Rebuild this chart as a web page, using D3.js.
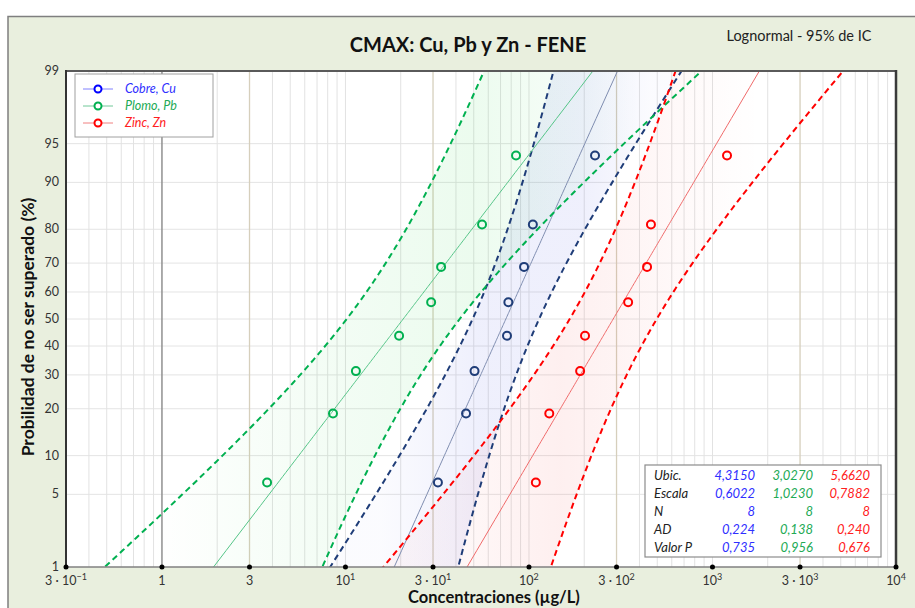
<!DOCTYPE html>
<html>
<head>
	<meta charset="utf-8">
	<title>CMAX</title>
	<style>
		body { margin: 0; background: #fff; }
		text { font-family: Lato, "Open Sans", sans-serif; }
	</style>
</head>
<body>
	<svg id="container" width="915" height="608"></svg>
</body>
<script src="https://d3js.org/d3.v7.min.js"></script>
<script>
	// series
	let categories = ["Cobre, Cu", "Plomo, Pb", "Zinc, Zn"]
	let cuValues = [31.9, 45.4, 50.5, 75.9, 77.2, 94, 105, 229]
	let pbValues = [3.74, 8.55, 11.4, 19.6, 29.3, 33.2, 55.5, 85.0]
	let znValues = [109, 129, 190, 202, 347, 440, 462, 1200]

	// stats table
	let statLabels = ["Ubic.", "Escala", "N", "AD", "Valor P"]
	let ubic = [4.3150, 3.0270, 5.6620]
	let escala = [0.6022, 1.0230, 0.7882]
	let nVals = [8, 8, 8]
	let adVals = [0.224, 0.138, 0.240]
	let pVals = [0.735, 0.956, 0.676]

	// ticks
	let yTicks = [1, 5, 10, 20, 30, 40, 50, 60, 70, 80, 90, 95, 99]
	let xTicks = [0.3, 1, 3, 10, 30, 100, 300, 1000, 3000, 10000]
	let xTickLabels = [["3 · 10", "−1"], ["1", ""], ["3", ""], ["10", "1"], ["3 · 10", "1"],
		["10", "2"], ["3 · 10", "2"], ["10", "3"], ["3 · 10", "3"], ["10", "4"]]

	let seriesValues = [cuValues, pbValues, znValues]
	let markColor = ["#1F3D78", "#00B050", "#FF0000"]
	let legendMark = ["#0000FF", "#00B050", "#FF0000"]
	let legendLine = ["#8080FF", "#70C898", "#F08080"]
	let fitColor = ["#7F8DB0", "#55C588", "#F06A6A"]
	let dashColor = ["#1F3D78", "#00B050", "#FF0000"]
	let textColor = ["#2F2FFF", "#22AA55", "#FF2020"]

	// inverse normal cdf (Acklam)
	function qnorm(p) {
		let a = [-3.969683028665376e+01, 2.209460984245205e+02, -2.759285104469687e+02, 1.383577518672690e+02, -3.066479806614716e+01, 2.506628277459239e+00]
		let b = [-5.447609879822406e+01, 1.615858368580409e+02, -1.556989798598866e+02, 6.680131188771972e+01, -1.328068155288572e+01]
		let c = [-7.784894002430293e-03, -3.223964580411365e-01, -2.400758277161838e+00, -2.549732539343734e+00, 4.374664141464968e+00, 2.938163982698783e+00]
		let d = [7.784695709041462e-03, 3.224671290700398e-01, 2.445134137142996e+00, 3.754408661907416e+00]
		let pl = 0.02425, q, r
		if (p < pl) {
			q = Math.sqrt(-2 * Math.log(p))
			return (((((c[0]*q+c[1])*q+c[2])*q+c[3])*q+c[4])*q+c[5]) / ((((d[0]*q+d[1])*q+d[2])*q+d[3])*q+1)
		}
		if (p > 1 - pl) {
			q = Math.sqrt(-2 * Math.log(1 - p))
			return -(((((c[0]*q+c[1])*q+c[2])*q+c[3])*q+c[4])*q+c[5]) / ((((d[0]*q+d[1])*q+d[2])*q+d[3])*q+1)
		}
		q = p - 0.5; r = q * q
		return (((((a[0]*r+a[1])*r+a[2])*r+a[3])*r+a[4])*r+a[5])*q / (((((b[0]*r+b[1])*r+b[2])*r+b[3])*r+b[4])*r+1)
	}

	let svg = d3.select("#container")
	let pLeft = 66, pRight = 896, pTop = 71, pBottom = 567

	// outer panel
	svg.append("rect").attr("x", 8).attr("y", 16.5).attr("width", 920).attr("height", 600)
		.attr("fill", "#E9EFDE").attr("stroke", "#7F7F7F").attr("stroke-width", 1.5)
	svg.append("rect").attr("x", pLeft).attr("y", pTop).attr("width", pRight - pLeft).attr("height", pBottom - pTop)
		.attr("fill", "#fff")

	let x = d3.scaleLog().domain([0.3, 10000]).range([pLeft, pRight])
	let y = d3.scaleLinear().domain([qnorm(0.01), qnorm(0.99)]).range([pBottom, pTop])
	let yp = p => y(qnorm(p / 100))

	let defs = svg.append("defs")
	defs.append("clipPath").attr("id", "plotclip").append("rect")
		.attr("x", pLeft).attr("y", pTop).attr("width", pRight - pLeft).attr("height", pBottom - pTop)

	// grid
	let grid = svg.append("g")
	yTicks.filter(t => t > 1 && t < 99).forEach(t => {
		grid.append("line").attr("x1", pLeft).attr("x2", pRight).attr("y1", yp(t)).attr("y2", yp(t))
			.attr("stroke", "#E4E4E4").attr("stroke-width", 1)
	})
	let vlines = []
	for (let k = -1; k <= 3; k++) {
		for (let m = 1; m <= 9; m++) {
			let v = m * Math.pow(10, k)
			if (v < 0.3 || v >= 10000) continue
			vlines.push({ v: v, m: m, k: k })
		}
	}
	vlines.filter(d => d.m != 3 && !(d.m == 1 && d.k == 0)).forEach(d => {
		grid.append("line").attr("x1", x(d.v)).attr("x2", x(d.v)).attr("y1", pTop).attr("y2", pBottom)
			.attr("stroke", "#E2E2E2").attr("stroke-width", 1)
	})
	vlines.filter(d => d.m == 3).forEach(d => {
		grid.append("line").attr("x1", x(d.v)).attr("x2", x(d.v)).attr("y1", pTop).attr("y2", pBottom)
			.attr("stroke", "#D6CFBC").attr("stroke-width", 1.3)
	})
	grid.append("line").attr("x1", x(1)).attr("x2", x(1)).attr("y1", pTop).attr("y2", pBottom)
		.attr("stroke", "#909090").attr("stroke-width", 1.5)

	// confidence bands and fit lines
	let probs = d3.range(0.5, 99.51, 0.5)
	let plot = svg.append("g").attr("clip-path", "url(#plotclip)")
	let gradStops = [
		[[380, 0.02], [480, 0.08], [580, 0.08], [650, 0.02]],
		[[150, 0.0], [330, 0.05], [470, 0.08], [540, 0.05], [640, 0.0]],
		[[450, 0.03], [560, 0.07], [640, 0.04], [760, 0.0]]
	]
	let bandBase = ["#3340E0", "#10D030", "#F02020"]

	function bandOf(i) {
		let mu = ubic[i], s = escala[i], n = nVals[i]
		return probs.map(p => {
			let z = qnorm(p / 100)
			let c = mu + z * s
			let h = 1.96 * s * Math.sqrt((1 + z * z / 2) / n)
			return { p: p, lo: Math.exp(c - h), hi: Math.exp(c + h), c: Math.exp(c) }
		})
	}

	categories.forEach((cat, i) => {
		let band = bandOf(i)
		let g = defs.append("linearGradient").attr("id", "grad" + i)
			.attr("gradientUnits", "userSpaceOnUse").attr("x1", 0).attr("x2", 915).attr("y1", 0).attr("y2", 0)
		gradStops[i].forEach(st => {
			g.append("stop").attr("offset", st[0] / 915).attr("stop-color", bandBase[i]).attr("stop-opacity", st[1])
		})
		let area = d3.area().x0(d => x(d.lo)).x1(d => x(d.hi)).y(d => yp(d.p))
		plot.append("path").datum(band).attr("d", area).attr("fill", "url(#grad" + i + ")")
	})

	categories.forEach((cat, i) => {
		let band = bandOf(i)
		plot.append("path").datum(band)
			.attr("d", d3.line().x(d => x(d.c)).y(d => yp(d.p)))
			.attr("fill", "none").attr("stroke", fitColor[i]).attr("stroke-width", 1)
		;["lo", "hi"].forEach(key => {
			plot.append("path").datum(band)
				.attr("d", d3.line().x(d => x(d[key])).y(d => yp(d.p)))
				.attr("fill", "none").attr("stroke", dashColor[i]).attr("stroke-width", 2)
				.attr("stroke-dasharray", "6,4")
		})
	})

	// points
	seriesValues.forEach((vals, i) => {
		let n = vals.length
		plot.selectAll(".pt" + i).data(vals).enter().append("circle")
			.attr("cx", d => x(d))
			.attr("cy", (d, j) => yp(100 * (j + 0.5) / n))
			.attr("r", 4).attr("fill", "none").attr("stroke", markColor[i]).attr("stroke-width", 2)
	})

	// frame
	svg.append("line").attr("x1", pLeft).attr("x2", pRight).attr("y1", pTop).attr("y2", pTop)
		.attr("stroke", "#5A5A5A").attr("stroke-width", 2)
	svg.append("line").attr("x1", pRight).attr("x2", pRight).attr("y1", pTop - 1).attr("y2", pBottom)
		.attr("stroke", "#3A3A3A").attr("stroke-width", 2.5)
	svg.append("line").attr("x1", pLeft).attr("x2", pRight).attr("y1", pBottom).attr("y2", pBottom)
		.attr("stroke", "#808080").attr("stroke-width", 1.5)
	svg.append("line").attr("x1", pLeft).attr("x2", pLeft).attr("y1", pTop - 1).attr("y2", pBottom)
		.attr("stroke", "#333").attr("stroke-width", 2)

	// x ticks
	let xt = svg.append("g")
	xTicks.forEach((t, i) => {
		xt.append("circle").attr("cx", x(t)).attr("cy", pBottom).attr("r", 2.5).attr("fill", "#000")
		let lab = xt.append("text").attr("x", x(t)).attr("y", 585).attr("text-anchor", "middle")
			.attr("font-size", 12.5).attr("fill", "#333")
		lab.append("tspan").text(xTickLabels[i][0])
		if (xTickLabels[i][1]) {
			lab.append("tspan").attr("dy", -5).attr("font-size", 9).text(xTickLabels[i][1])
		}
	})

	// y ticks
	yTicks.forEach(t => {
		svg.append("text").attr("x", 59).attr("y", yp(t) + 4).attr("text-anchor", "end")
			.attr("font-size", 12.5).attr("fill", "#333").text(t)
	})

	// titles
	svg.append("text").attr("x", 468).attr("y", 52).attr("text-anchor", "middle")
		.attr("font-size", 20).attr("font-weight", "bold").attr("fill", "#111").text("CMAX: Cu, Pb y Zn - FENE")
	svg.append("text").attr("x", 799).attr("y", 41).attr("text-anchor", "middle")
		.attr("font-size", 14.5).attr("fill", "#222").text("Lognormal - 95% de IC")
	svg.append("text").attr("x", 494).attr("y", 603).attr("text-anchor", "middle")
		.attr("font-size", 16.5).attr("font-weight", "bold").attr("fill", "#111").text("Concentraciones (µg/L)")
	svg.append("text").attr("transform", "translate(34,327) rotate(-90)").attr("text-anchor", "middle")
		.attr("font-size", 17.5).attr("font-weight", "bold").attr("fill", "#111").text("Probilidad de no ser superado (%)")

	// legend
	let lg = svg.append("g").attr("transform", "translate(75,74)")
	lg.append("rect").attr("width", 138).attr("height", 63).attr("fill", "#fff").attr("stroke", "#A0A0A0")
	categories.forEach((cat, i) => {
		let ly = 15 + i * 17
		lg.append("line").attr("x1", 8).attr("x2", 38).attr("y1", ly).attr("y2", ly)
			.attr("stroke", legendLine[i]).attr("stroke-width", 1)
		lg.append("circle").attr("cx", 23).attr("cy", ly).attr("r", 3.5).attr("fill", "#fff")
			.attr("stroke", legendMark[i]).attr("stroke-width", 2)
		lg.append("text").attr("x", 50).attr("y", ly + 4).attr("font-size", 12.5).attr("font-style", "italic")
			.attr("fill", textColor[i]).text(cat)
	})

	// stats table
	let tb = svg.append("g").attr("transform", "translate(645,465)")
	tb.append("rect").attr("width", 236).attr("height", 92).attr("fill", "#fff").attr("stroke", "#8C8C8C").attr("stroke-width", 1.2)
	let fmt = (v, d) => v.toFixed(d).replace(".", ",")
	let rows = [ubic.map(v => fmt(v, 4)), escala.map(v => fmt(v, 4)), nVals.map(v => "" + v),
		adVals.map(v => fmt(v, 3)), pVals.map(v => fmt(v, 3))]
	let colX = [110, 168, 225]
	statLabels.forEach((lab, r) => {
		let ry = 15 + r * 18
		tb.append("text").attr("x", 9).attr("y", ry).attr("font-size", 13).attr("font-style", "italic")
			.attr("fill", "#222").text(lab)
		rows[r].forEach((v, c) => {
			tb.append("text").attr("x", colX[c]).attr("y", ry).attr("text-anchor", "end")
				.attr("font-size", 13).attr("font-style", "italic").attr("fill", textColor[c]).text(v)
		})
	})
</script>
</html>
